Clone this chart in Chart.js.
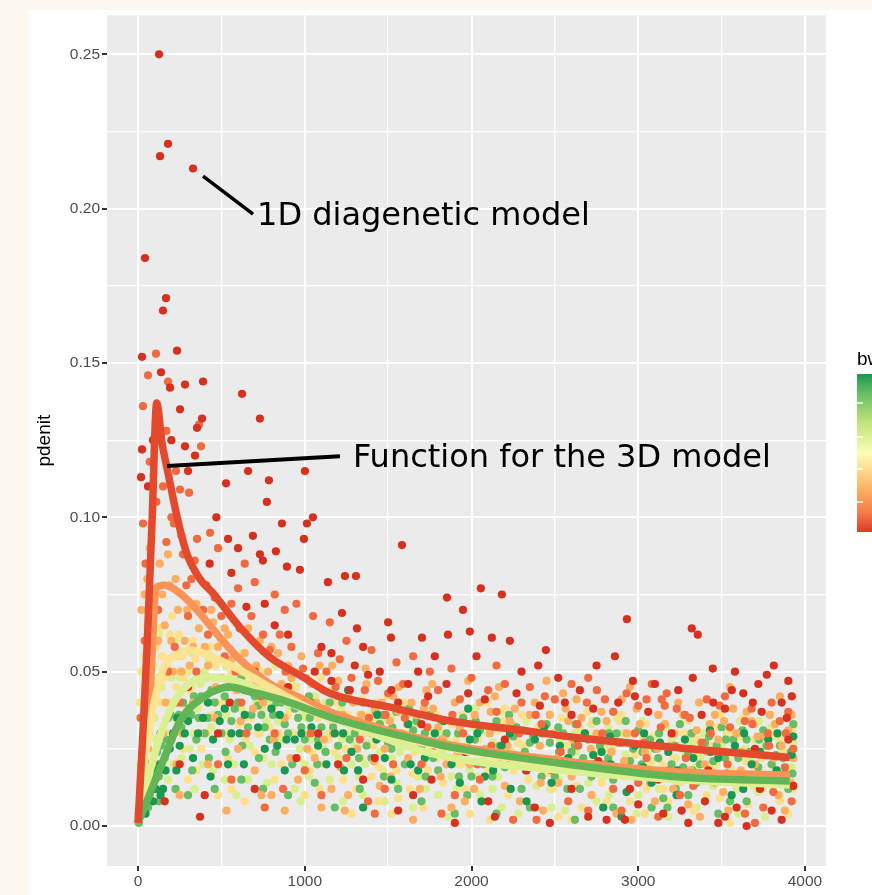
<!DOCTYPE html>
<html>
<head>
<meta charset="utf-8">
<script src="https://cdn.jsdelivr.net/npm/chart.js@4.4.0/dist/chart.umd.min.js"></script>
<style>
html, body { margin: 0; padding: 0; background: #fcf8f0; }
#wrap { position: absolute; left: 29px; top: 10px; width: 843px; height: 885px; background: #fff; overflow: hidden; }
canvas { display: block; margin-top: -6px; }
</style>
</head>
<body>
<div id="wrap"><canvas id="chart" width="843" height="891"></canvas></div>
<script>
"use strict";
// axis ticks
const xMajor = [0, 1000, 2000, 3000, 4000];
const xTickLabels = ['0', '1000', '2000', '3000', '4000'];
const xMinor = [500, 1500, 2500, 3500];
const yMajor = [0, 0.05, 0.10, 0.15, 0.20, 0.25];
const yTickLabels = ['0.00', '0.05', '0.10', '0.15', '0.20', '0.25'];
const yMinor = [0.025, 0.075, 0.125, 0.175, 0.225];

// fitted curves, one per bw class
const redLine = [[0,0.001],[30,0.031],[55,0.059],[85,0.100],[112,0.137],[144,0.124],[174,0.116],[235,0.100],[294,0.088],[372,0.080],[450,0.0754],[611,0.0644],[791,0.0547],[989,0.0483],[1151,0.0430],[1511,0.0385],[1900,0.0338],[2300,0.031],[2650,0.0285],[3249,0.0253],[3909,0.0222]];
const orangeLine = [[0,0.001],[40,0.022],[72,0.043],[95,0.068],[105,0.077],[162,0.078],[252,0.0754],[354,0.070],[492,0.061],[611,0.054],[791,0.046],[953,0.042],[1151,0.037],[1500,0.031],[1900,0.026],[2650,0.0205],[3249,0.0175],[3909,0.0165]];
const yellowLine = [[0,0.001],[54,0.027],[150,0.0505],[252,0.056],[312,0.057],[450,0.0547],[611,0.0505],[791,0.045],[1151,0.035],[1900,0.025],[2650,0.019],[3249,0.0158],[3909,0.0145]];
const limeLine = [[0,0.001],[90,0.0214],[192,0.0376],[312,0.0463],[432,0.048],[611,0.0466],[851,0.041],[1211,0.034],[1751,0.0236],[2650,0.0175],[3249,0.015],[3909,0.0133]];
const greenLine = [[0,0.001],[30,0.005],[90,0.013],[150,0.021],[252,0.034],[400,0.042],[552,0.045],[671,0.0435],[851,0.041],[1200,0.0345],[1751,0.027],[1900,0.0253],[2650,0.0195],[3249,0.0159],[3909,0.0146]];

// observations grouped by bw class (low bw = red ... high bw = green)
const ptsBw1 = [[126,0.250],[180,0.221],[132,0.217],[330,0.213],[42,0.184],[168,0.171],[150,0.167],[24,0.152],[234,0.154],[138,0.147],[192,0.142],[282,0.143],[390,0.144],[624,0.140],[252,0.135],[731,0.132],[384,0.132],[354,0.129],[24,0.122],[282,0.123],[342,0.120],[18,0.113],[528,0.111],[660,0.115],[785,0.112],[1001,0.115],[773,0.105],[1049,0.100],[1013,0.098],[863,0.098],[689,0.094],[995,0.093],[1583,0.091],[540,0.093],[731,0.088],[827,0.089],[749,0.086],[893,0.084],[971,0.083],[1241,0.081],[1307,0.081],[1139,0.079],[1853,0.074],[1223,0.069],[1313,0.064],[1703,0.061],[2056,0.077],[2182,0.075],[1949,0.070],[1990,0.063],[2122,0.061],[2230,0.060],[1859,0.062],[1517,0.061],[2932,0.067],[3321,0.064],[3357,0.062],[2446,0.057],[2860,0.055],[3447,0.051],[3813,0.052],[3771,0.049],[3921,0.042],[3327,0.048],[3561,0.044],[3687,0.040],[3891,0.035],[2968,0.047],[372,0.003],[1450,0.050],[1620,0.046],[1780,0.055],[2300,0.050],[2520,0.048],[2650,0.044],[2750,0.052],[3100,0.046],[3450,0.040],[3630,0.043],[1100,0.058],[1300,0.052],[900,0.062],[650,0.071],[560,0.082],[1900,0.001],[2700,0.003],[2810,0.002],[3150,0.004],[3300,0.001],[3520,0.003],[3650,0.000],[3800,0.005],[2380,0.006],[2100,0.008],[1650,0.010],[1350,0.015],[1200,0.020],[950,0.022],[1080,0.030],[2950,0.012],[3420,0.018],[3700,0.025],[2200,0.028],[1700,0.033],[2600,0.036],[3200,0.030],[3900,0.028],[700,0.012],[480,0.030],[250,0.020],[160,0.008],[1520,0.044],[2880,0.040],
  [1060,0.050],[1160,0.047],[1270,0.044],[1380,0.049],[1560,0.040],[1740,0.042],[1980,0.043],[2080,0.041],[2270,0.043],[2410,0.039],[2560,0.040],[2730,0.038],[2980,0.042],[3060,0.037],[3240,0.044],[3380,0.036],[3520,0.038],[3740,0.037],[3860,0.040],[1420,0.022],[1560,0.005],[1760,0.015],[1960,0.024],[2140,0.003],[2330,0.018],[2470,0.001],[2600,0.012],[2760,0.021],[2920,0.002],[3000,0.007],[3120,0.015],[3260,0.005],[3400,0.008],[3480,0.001],[3590,0.006],[3730,0.012],[3860,0.002],[3930,0.013],[820,0.065],[760,0.072],[600,0.090],[470,0.100],[430,0.085],[300,0.115],[200,0.125],[90,0.125],[60,0.110],[1160,0.056],[1350,0.058],[1500,0.066],[1680,0.050],[2400,0.052],[3580,0.050],[3720,0.046],[3900,0.047],[1850,0.046],[2030,0.055],[900,0.045],[700,0.050],[550,0.040],[400,0.010],[300,0.045]];
const ptsBw2 = [[60,0.146],[30,0.136],[108,0.153],[180,0.144],[366,0.130],[378,0.123],[228,0.115],[252,0.109],[306,0.108],[432,0.095],[480,0.090],[354,0.093],[30,0.098],[45,0.085],[200,0.100],[170,0.092],[270,0.088],[320,0.080],[410,0.078],[600,0.077],[640,0.085],[700,0.079],[820,0.075],[880,0.070],[950,0.072],[1050,0.068],[1150,0.066],[1250,0.060],[1400,0.057],[1550,0.053],[1650,0.055],[1750,0.050],[1880,0.051],[2000,0.048],[2150,0.052],[2350,0.045],[2500,0.041],[2700,0.048],[2800,0.041],[3000,0.039],[3141,0.041],[3159,0.039],[3231,0.038],[3411,0.041],[3489,0.039],[3309,0.035],[3639,0.034],[3777,0.030],[3849,0.034],[2692,0.040],[2752,0.044],[3081,0.046],[3171,0.043],[1020,0.040],[1180,0.036],[1330,0.028],[1480,0.012],[1600,0.035],[1820,0.004],[1950,0.030],[2050,0.015],[2250,0.002],[2420,0.033],[2580,0.008],[2640,0.026],[2900,0.005],[3050,0.022],[3250,0.010],[3380,0.027],[3600,0.015],[3750,0.006],[3880,0.019],[3920,0.008],[820,0.030],[620,0.040],[520,0.055],[420,0.062],[300,0.068],[220,0.058],[120,0.070],[80,0.040],[560,0.015],[760,0.006],[1100,0.010],[1420,0.004],[2480,0.018],[2980,0.030],[3550,0.032],[3700,0.001],[2150,0.037],[1700,0.020],
  [70,0.118],[110,0.105],[150,0.110],[170,0.128],[215,0.098],[260,0.094],[290,0.078],[340,0.086],[390,0.070],[460,0.074],[500,0.068],[560,0.072],[610,0.064],[680,0.068],[750,0.062],[790,0.057],[850,0.062],[920,0.058],[990,0.051],[1080,0.056],[1130,0.050],[1210,0.054],[1280,0.048],[1360,0.044],[1440,0.047],[1500,0.043],[1590,0.046],[1720,0.040],[1800,0.044],[1930,0.041],[2100,0.044],[2200,0.046],[2300,0.040],[2440,0.042],[2600,0.046],[2850,0.037],[2930,0.043],[3050,0.041],[3280,0.036],[3520,0.042],[3680,0.038],[3800,0.040],[3900,0.037],[1250,0.022],[1380,0.008],[1530,0.020],[1780,0.026],[1900,0.010],[2120,0.026],[2300,0.022],[2390,0.002],[2700,0.005],[2850,0.012],[3120,0.003],[3180,0.018],[3330,0.013],[3470,0.024],[3640,0.004],[3810,0.011],[3930,0.025],[1000,0.018],[870,0.012],[650,0.030],[480,0.020],[350,0.050],[250,0.040],[180,0.050],[40,0.060],[15,0.035],[3000,0.014],
  [1035,0.030],[1385,0.035],[1635,0.028],[1885,0.036],[2035,0.020],[2285,0.030],[2535,0.024],[2785,0.030],[3035,0.027],[3285,0.022],[3535,0.020],[3785,0.026],[3885,0.030],[1185,0.045],[1485,0.036],[1735,0.032],[2385,0.036],[2635,0.033],[2885,0.027],[3135,0.032],[3435,0.030],[3685,0.033],[585,0.050],[735,0.042],[885,0.050]];
const ptsBw3 = [[40,0.075],[70,0.090],[95,0.060],[130,0.085],[160,0.065],[190,0.078],[210,0.050],[240,0.070],[280,0.060],[310,0.052],[350,0.072],[400,0.058],[450,0.066],[500,0.048],[540,0.062],[590,0.044],[640,0.056],[690,0.038],[730,0.060],[780,0.050],[840,0.056],[880,0.035],[920,0.048],[980,0.055],[1040,0.046],[1090,0.052],[1130,0.038],[1200,0.047],[1260,0.042],[1310,0.033],[1370,0.046],[1420,0.038],[1480,0.025],[1530,0.042],[1580,0.030],[1640,0.040],[1690,0.012],[1730,0.044],[1800,0.032],[1850,0.020],[1900,0.040],[1960,0.008],[2020,0.036],[2080,0.025],[2140,0.042],[2200,0.013],[2260,0.038],[2320,0.022],[2380,0.040],[2430,0.005],[2490,0.030],[2550,0.043],[2600,0.016],[2660,0.035],[2720,0.010],[2780,0.037],[2840,0.024],[2900,0.041],[2960,0.002],[3010,0.033],[3070,0.014],[3120,0.036],[3190,0.026],[3240,0.040],[3300,0.007],[3350,0.031],[3400,0.020],[3460,0.036],[3510,0.011],[3570,0.038],[3620,0.024],[3680,0.034],[3730,0.016],[3790,0.036],[3840,0.010],[3900,0.031],[3930,0.022],[150,0.030],[250,0.010],[330,0.040],[420,0.020],[600,0.025],[700,0.018],[800,0.010],[960,0.015],[1060,0.022],[1160,0.012],[1240,0.005],[1650,0.002],[2950,0.045],[3550,0.045],[3850,0.042],[2450,0.047],[1980,0.047],
  [20,0.070],[55,0.080],[80,0.068],[120,0.060],[145,0.075],[180,0.088],[200,0.060],[225,0.080],[260,0.050],[295,0.070],[330,0.058],[365,0.064],[420,0.052],[440,0.070],[480,0.058],[520,0.064],[560,0.054],[620,0.050],[660,0.064],[710,0.052],[750,0.040],[800,0.058],[860,0.046],[900,0.052],[950,0.040],[1010,0.048],[1070,0.040],[1110,0.044],[1170,0.030],[1230,0.036],[1290,0.040],[1340,0.036],[1400,0.030],[1460,0.040],[1510,0.034],[1560,0.037],[1620,0.022],[1670,0.036],[1710,0.028],[1770,0.038],[1830,0.028],[1880,0.006],[1930,0.032],[1990,0.020],[2050,0.040],[2110,0.030],[2170,0.020],[2230,0.034],[2290,0.008],[2350,0.036],[2410,0.026],[2470,0.036],[2520,0.014],[2580,0.034],[2630,0.041],[2690,0.020],[2750,0.030],[2810,0.034],[2870,0.004],[2930,0.030],[2990,0.038],[3040,0.024],[3100,0.008],[3160,0.033],[3210,0.012],[3270,0.036],[3320,0.025],[3370,0.003],[3430,0.033],[3480,0.028],[3540,0.005],[3590,0.030],[3650,0.037],[3700,0.020],[3760,0.029],[3820,0.033],[3880,0.005],[3920,0.036],[3860,0.026],[1450,0.013],[1260,0.010],[1100,0.006],[880,0.005],[740,0.010],[530,0.005],[460,0.035],[230,0.020],[100,0.045],[60,0.025],[3460,0.014],
  [1015,0.025],[1115,0.028],[1215,0.019],[1315,0.025],[1415,0.021],[1515,0.016],[1615,0.033],[1715,0.038],[1815,0.016],[1915,0.024],[2015,0.012],[2115,0.037],[2215,0.026],[2315,0.031],[2415,0.014],[2515,0.022],[2615,0.028],[2715,0.025],[2815,0.017],[2915,0.021],[3015,0.016],[3115,0.025],[3215,0.030],[3315,0.018],[3415,0.024],[3515,0.034],[3615,0.018],[3715,0.029],[3815,0.022],[3915,0.014],[615,0.034],[715,0.046],[815,0.028],[915,0.022],[365,0.030],[465,0.045],[265,0.030],[165,0.040],[1165,0.052],[1365,0.051],[1565,0.045],[1765,0.046],[2165,0.045],[2565,0.038],[3365,0.040]];
const ptsBw4 = [[20,0.050],[55,0.065],[85,0.045],[110,0.058],[140,0.040],[175,0.052],[205,0.068],[230,0.045],[265,0.055],[290,0.038],[330,0.060],[370,0.048],[410,0.042],[460,0.052],[510,0.040],[560,0.050],[610,0.033],[660,0.046],[720,0.030],[760,0.044],[810,0.038],[870,0.045],[930,0.030],[990,0.040],[1030,0.018],[1080,0.035],[1140,0.028],[1190,0.040],[1230,0.015],[1290,0.032],[1340,0.022],[1390,0.036],[1440,0.008],[1500,0.028],[1550,0.018],[1610,0.030],[1660,0.024],[1710,0.006],[1770,0.027],[1830,0.014],[1880,0.033],[1940,0.020],[1990,0.004],[2040,0.028],[2100,0.018],[2160,0.031],[2220,0.010],[2280,0.027],[2340,0.015],[2400,0.032],[2460,0.022],[2520,0.003],[2570,0.026],[2630,0.013],[2690,0.030],[2750,0.019],[2810,0.008],[2860,0.028],[2920,0.016],[2980,0.023],[3040,0.004],[3090,0.029],[3150,0.012],[3210,0.022],[3270,0.030],[3330,0.005],[3380,0.016],[3440,0.026],[3490,0.009],[3540,0.021],[3600,0.029],[3660,0.007],[3710,0.019],[3760,0.026],[3810,0.013],[3870,0.024],[3920,0.017],[3900,0.004],[120,0.020],[200,0.028],[300,0.015],[380,0.025],[480,0.010],[540,0.022],[640,0.008],[860,0.020],[1000,0.010],[1600,0.040],[2200,0.038],[2900,0.036],[3300,0.034],[3700,0.033],
  [10,0.040],[40,0.055],[75,0.058],[95,0.075],[130,0.064],[160,0.048],[190,0.062],[245,0.062],[275,0.048],[310,0.044],[345,0.054],[395,0.035],[430,0.058],[470,0.040],[495,0.060],[530,0.030],[580,0.040],[630,0.044],[680,0.035],[740,0.050],[790,0.032],[840,0.040],[900,0.036],[950,0.045],[1020,0.030],[1060,0.040],[1110,0.020],[1160,0.044],[1210,0.030],[1260,0.036],[1310,0.012],[1360,0.030],[1410,0.026],[1460,0.034],[1520,0.004],[1570,0.030],[1630,0.012],[1680,0.034],[1740,0.018],[1790,0.036],[1850,0.022],[1910,0.028],[1960,0.012],[2010,0.034],[2060,0.008],[2130,0.024],[2190,0.034],[2250,0.018],[2310,0.026],[2370,0.006],[2430,0.030],[2490,0.012],[2540,0.035],[2600,0.027],[2660,0.006],[2720,0.033],[2780,0.014],[2840,0.020],[2890,0.034],[2950,0.008],[3010,0.026],[3070,0.020],[3120,0.030],[3180,0.008],[3240,0.026],[3300,0.018],[3350,0.028],[3410,0.010],[3470,0.032],[3520,0.015],[3580,0.025],[3630,0.035],[3690,0.013],[3740,0.022],[3790,0.030],[3850,0.008],[3900,0.028],[3930,0.012],[150,0.018],[270,0.025],[350,0.018],[420,0.030],[560,0.012],[700,0.024],[820,0.015],[960,0.022],[1090,0.012],[1180,0.024],[1280,0.004],[1400,0.016],[1560,0.009],[1700,0.028],[2000,0.024],[2110,0.002],[2300,0.036],[2600,0.002],[2800,0.025],[3050,0.012],[3550,0.001],[3800,0.020],
  [1045,0.024],[1145,0.035],[1245,0.025],[1345,0.041],[1445,0.019],[1545,0.037],[1645,0.017],[1745,0.032],[1845,0.030],[1945,0.036],[2045,0.016],[2145,0.021],[2245,0.033],[2345,0.022],[2445,0.017],[2545,0.019],[2645,0.032],[2745,0.024],[2845,0.012],[2945,0.030],[3045,0.033],[3145,0.020],[3245,0.014],[3345,0.024],[3445,0.019],[3545,0.030],[3645,0.021],[3745,0.012],[3845,0.028],[3925,0.031],[545,0.045],[645,0.028],[745,0.038],[845,0.030],[945,0.050],[445,0.036],[345,0.042],[245,0.050],[145,0.055],[65,0.035],[1095,0.048],[1495,0.042],[2095,0.040],[2695,0.037],[3495,0.036]];
const ptsBw5 = [[30,0.030],[60,0.045],[100,0.035],[125,0.048],[150,0.055],[185,0.040],[220,0.035],[250,0.048],[280,0.030],[320,0.045],[360,0.038],[400,0.050],[440,0.032],[480,0.044],[530,0.036],[570,0.046],[620,0.038],[670,0.026],[710,0.040],[770,0.034],[820,0.045],[860,0.028],[910,0.038],[970,0.025],[1010,0.035],[1060,0.042],[1110,0.025],[1170,0.033],[1220,0.038],[1280,0.020],[1330,0.036],[1380,0.027],[1430,0.032],[1470,0.018],[1520,0.035],[1570,0.024],[1630,0.028],[1680,0.016],[1740,0.031],[1790,0.022],[1850,0.028],[1910,0.012],[1970,0.026],[2010,0.032],[2070,0.021],[2130,0.027],[2180,0.006],[2240,0.024],[2300,0.031],[2360,0.019],[2410,0.026],[2470,0.012],[2530,0.028],[2590,0.022],[2650,0.031],[2700,0.014],[2770,0.025],[2820,0.032],[2880,0.018],[2940,0.027],[3000,0.010],[3060,0.024],[3110,0.018],[3170,0.032],[3220,0.015],[3280,0.024],[3340,0.019],[3390,0.030],[3450,0.013],[3500,0.026],[3560,0.018],[3610,0.034],[3670,0.021],[3720,0.011],[3780,0.023],[3830,0.029],[3880,0.015],[3930,0.027],[3910,0.036],[80,0.012],[180,0.015],[260,0.022],[340,0.012],[450,0.018],[590,0.010],[750,0.022],[940,0.012],[1150,0.015],[1350,0.010],[1860,0.003],[2560,0.005],[3180,0.003],[3760,0.003],
  [15,0.020],[45,0.040],[70,0.030],[95,0.052],[110,0.028],[140,0.045],[165,0.030],[200,0.048],[235,0.055],[265,0.040],[300,0.050],[335,0.030],[375,0.046],[415,0.040],[455,0.048],[500,0.040],[550,0.028],[600,0.044],[645,0.035],[690,0.046],[730,0.030],[790,0.040],[840,0.034],[890,0.044],[930,0.030],[990,0.036],[1040,0.028],[1090,0.036],[1140,0.030],[1200,0.022],[1250,0.030],[1300,0.026],[1360,0.020],[1410,0.034],[1450,0.024],[1500,0.030],[1550,0.014],[1600,0.026],[1660,0.033],[1710,0.020],[1760,0.026],[1820,0.030],[1880,0.016],[1940,0.030],[1990,0.018],[2040,0.024],[2100,0.030],[2160,0.016],[2210,0.028],[2270,0.020],[2330,0.034],[2390,0.013],[2440,0.030],[2500,0.021],[2560,0.026],[2620,0.030],[2680,0.018],[2730,0.028],[2790,0.016],[2850,0.026],[2910,0.030],[2970,0.016],[3030,0.028],[3080,0.021],[3140,0.026],[3200,0.028],[3250,0.018],[3310,0.030],[3370,0.022],[3420,0.026],[3470,0.020],[3530,0.030],[3590,0.012],[3640,0.025],[3700,0.028],[3750,0.016],[3800,0.032],[3860,0.022],[3920,0.019],[210,0.020],[310,0.025],[390,0.020],[520,0.015],[660,0.015],[800,0.020],[1000,0.020],[1230,0.008],[1480,0.008],[1650,0.006],[1800,0.010],[2050,0.010],[2280,0.004],[2480,0.006],[2750,0.008],[2990,0.004],[3350,0.006],[3600,0.004],[3850,0.010],
  [1025,0.016],[1125,0.040],[1225,0.028],[1325,0.016],[1425,0.040],[1525,0.022],[1625,0.036],[1725,0.012],[1825,0.024],[1925,0.020],[2025,0.038],[2125,0.012],[2225,0.034],[2325,0.026],[2425,0.022],[2525,0.015],[2625,0.024],[2725,0.034],[2825,0.010],[2925,0.023],[3025,0.034],[3125,0.012],[3225,0.022],[3325,0.027],[3425,0.033],[3525,0.024],[3625,0.029],[3725,0.034],[3825,0.018],[3925,0.023],[525,0.052],[625,0.056],[725,0.048],[825,0.052],[925,0.046],[425,0.054],[325,0.056],[225,0.060],[125,0.062],[575,0.020],[775,0.014],[975,0.008],[1575,0.040],[2175,0.037],[2875,0.035]];
const ptsBw6 = [[10,0.003],[25,0.008],[40,0.012],[55,0.016],[70,0.010],[85,0.020],[100,0.015],[115,0.024],[135,0.030],[160,0.022],[180,0.035],[200,0.028],[230,0.040],[260,0.032],[290,0.045],[320,0.036],[350,0.028],[380,0.042],[420,0.035],[460,0.040],[500,0.030],[540,0.045],[580,0.038],[620,0.048],[660,0.032],[700,0.042],[740,0.036],[790,0.028],[830,0.040],[880,0.033],[920,0.042],[960,0.035],[1000,0.028],[1050,0.038],[1100,0.032],[1150,0.040],[1200,0.026],[1250,0.035],[1300,0.030],[1350,0.040],[1400,0.022],[1450,0.033],[1500,0.027],[1550,0.037],[1600,0.020],[1650,0.031],[1700,0.026],[1750,0.036],[1800,0.018],[1850,0.030],[1900,0.022],[1950,0.035],[2000,0.016],[2050,0.031],[2100,0.024],[2150,0.034],[2200,0.019],[2250,0.029],[2300,0.012],[2350,0.027],[2400,0.021],[2450,0.033],[2500,0.016],[2550,0.030],[2600,0.024],[2650,0.012],[2700,0.028],[2750,0.034],[2800,0.020],[2850,0.015],[2900,0.027],[2950,0.021],[3000,0.031],[3050,0.017],[3100,0.025],[3150,0.009],[3200,0.020],[3250,0.033],[3300,0.024],[3350,0.014],[3400,0.027],[3450,0.021],[3500,0.032],[3550,0.008],[3600,0.022],[3650,0.028],[3700,0.015],[3750,0.031],[3800,0.020],[3850,0.026],[3900,0.012],[3930,0.033],[620,0.015],[900,0.010],[1180,0.006],[1700,0.008],[2150,0.004],[2620,0.002],[3080,0.006],[3480,0.004],
  [5,0.001],[20,0.004],[35,0.006],[50,0.010],[65,0.014],[80,0.016],[95,0.012],[110,0.020],[125,0.016],[140,0.026],[170,0.028],[195,0.036],[215,0.030],[245,0.036],[270,0.040],[305,0.038],[335,0.042],[365,0.035],[400,0.030],[440,0.044],[480,0.036],[520,0.042],[560,0.034],[600,0.040],[640,0.044],[680,0.036],[720,0.039],[760,0.032],[810,0.036],[860,0.040],[900,0.030],[940,0.038],[980,0.032],[1030,0.035],[1080,0.028],[1120,0.036],[1170,0.032],[1220,0.034],[1270,0.028],[1320,0.034],[1370,0.026],[1420,0.030],[1470,0.036],[1520,0.025],[1570,0.029],[1620,0.026],[1670,0.034],[1720,0.030],[1770,0.022],[1820,0.034],[1870,0.026],[1920,0.030],[1970,0.024],[2020,0.028],[2070,0.020],[2120,0.032],[2170,0.026],[2220,0.022],[2270,0.032],[2320,0.024],[2370,0.029],[2420,0.016],[2470,0.027],[2520,0.032],[2570,0.020],[2620,0.026],[2670,0.022],[2720,0.016],[2770,0.026],[2820,0.022],[2870,0.030],[2920,0.018],[2970,0.025],[3020,0.020],[3070,0.028],[3120,0.022],[3170,0.016],[3220,0.026],[3270,0.019],[3320,0.030],[3370,0.020],[3420,0.016],[3470,0.026],[3520,0.022],[3570,0.028],[3620,0.016],[3670,0.024],[3720,0.019],[3770,0.026],[3820,0.014],[3870,0.022],[3920,0.029],[3925,0.017],[300,0.010],[460,0.012],[750,0.012],[1060,0.014],[1330,0.012],[1560,0.012],[1900,0.004],[2350,0.006],[2850,0.006],[3300,0.010],[3650,0.008],
  [1025,0.042],[1125,0.024],[1225,0.040],[1325,0.022],[1425,0.037],[1525,0.032],[1625,0.038],[1725,0.016],[1825,0.028],[1925,0.016],[2025,0.034],[2125,0.016],[2225,0.036],[2325,0.018],[2425,0.030],[2525,0.024],[2625,0.033],[2725,0.020],[2825,0.030],[2925,0.034],[3025,0.024],[3125,0.030],[3225,0.012],[3325,0.018],[3425,0.029],[3525,0.028],[3625,0.031],[3725,0.028],[3825,0.023],[3915,0.024],[525,0.024],[625,0.026],[725,0.022],[825,0.024],[925,0.020],[425,0.022],[325,0.018],[225,0.012],[125,0.008],[60,0.006],[1075,0.020],[1475,0.016],[1975,0.010],[2575,0.012],[3175,0.006]];
const ptsBw7 = [[15,0.006],[45,0.004],[60,0.020],[90,0.008],[120,0.018],[150,0.012],[190,0.025],[230,0.018],[280,0.030],[330,0.022],[390,0.035],[450,0.028],[520,0.038],[610,0.030],[680,0.045],[760,0.025],[850,0.036],[940,0.028],[1040,0.032],[1130,0.020],[1230,0.030],[1320,0.018],[1430,0.028],[1520,0.015],[1620,0.033],[1720,0.022],[1820,0.026],[1930,0.014],[2030,0.024],[2130,0.018],[2230,0.030],[2330,0.008],[2430,0.020],[2530,0.026],[2630,0.018],[2730,0.023],[2830,0.029],[2930,0.011],[3030,0.019],[3130,0.027],[3230,0.010],[3330,0.022],[3430,0.031],[3530,0.017],[3630,0.012],[3730,0.024],[3830,0.018],[3920,0.023],[2790,0.006],[1980,0.038],[1260,0.044],
  [5,0.004],[30,0.010],[75,0.018],[105,0.012],[135,0.020],[165,0.018],[210,0.030],[250,0.026],[300,0.034],[360,0.030],[420,0.040],[490,0.034],[560,0.030],[640,0.036],[720,0.032],[800,0.038],[890,0.028],[980,0.030],[1080,0.026],[1180,0.030],[1280,0.024],[1380,0.032],[1480,0.022],[1580,0.028],[1680,0.018],[1780,0.030],[1880,0.020],[1990,0.028],[2080,0.016],[2180,0.026],[2280,0.022],[2380,0.028],[2480,0.014],[2580,0.022],[2680,0.030],[2780,0.024],[2880,0.018],[2980,0.026],[3080,0.014],[3180,0.024],[3280,0.028],[3380,0.016],[3480,0.022],[3580,0.026],[3680,0.020],[3780,0.028],[3880,0.017],[3930,0.029],[1350,0.006],[2060,0.008],[2900,0.003],[3560,0.010],[540,0.020],[880,0.018],
  [1035,0.040],[1235,0.018],[1435,0.036],[1635,0.020],[1835,0.034],[2035,0.030],[2235,0.012],[2435,0.032],[2635,0.028],[2835,0.020],[3035,0.030],[3235,0.018],[3435,0.024],[3635,0.030],[3835,0.030],[435,0.016],[635,0.020],[835,0.026],[235,0.035],[135,0.010]];

// hand-drawn annotations, in data coordinates
const labelNotes = [
  { text: '1D diagenetic model', from: [390, 0.2105], to: [690, 0.1982], at: [714, 0.1946], width: 3.5 },
  { text: 'Function for the 3D model', from: [174, 0.1166], to: [1211, 0.1198], at: [1289, 0.1163], width: 4 }
];

function toXY(arr) {
    return arr.map(function (p) { return { x: p[0], y: p[1] }; });
}
function isMajor(v, list) {
    return list.some(function (m) { return Math.abs(m - v) < 1e-9; });
}
function labelFor(v, list, labels) {
    for (let i = 0; i < list.length; i++) {
        if (Math.abs(list[i] - v) < 1e-9) return labels[i];
    }
    return '';
}

const datasets = [];
function addLine(data, color, order) {
    datasets.push({
        type: 'line', data: toXY(data), borderColor: color, borderWidth: 7.5,
        pointRadius: 0, fill: false, cubicInterpolationMode: 'monotone',
        borderCapStyle: 'butt', order: order
    });
}
function addPoints(data, color, order) {
    datasets.push({
        type: 'scatter', data: toXY(data), backgroundColor: color,
        borderWidth: 0, pointRadius: 4.1, pointHoverRadius: 4.1, order: order
    });
}
addLine(redLine, '#e2492d', 0);
addLine(greenLine, '#62b455', 1);
addLine(limeLine, '#dcef91', 2);
addLine(yellowLine, '#fee391', 3);
addLine(orangeLine, '#fb9256', 4);
addPoints(ptsBw1, '#d7301f', 10);
addPoints(ptsBw2, '#f16a40', 11);
addPoints(ptsBw7, '#1a9850', 12);
addPoints(ptsBw3, '#fdae61', 13);
addPoints(ptsBw6, '#66bd63', 14);
addPoints(ptsBw4, '#fee08b', 15);
addPoints(ptsBw5, '#d9ef8b', 16);

const panelPlugin = {
    id: 'panel',
    beforeDraw(chart) {
        const a = chart.chartArea, ctx = chart.ctx;
        ctx.save();
        ctx.fillStyle = '#ebebeb';
        ctx.fillRect(a.left, a.top, a.right - a.left, a.bottom - a.top);
        ctx.restore();
    },
    afterDatasetsDraw(chart) {
        const ctx = chart.ctx, sx = chart.scales.x, sy = chart.scales.y;
        ctx.save();
        ctx.strokeStyle = '#000';
        ctx.fillStyle = '#000';
        ctx.font = '32px "DejaVu Sans"';
        ctx.textBaseline = 'alphabetic';
        labelNotes.forEach(function (n) {
            ctx.lineWidth = n.width;
            ctx.beginPath();
            ctx.moveTo(sx.getPixelForValue(n.from[0]), sy.getPixelForValue(n.from[1]));
            ctx.lineTo(sx.getPixelForValue(n.to[0]), sy.getPixelForValue(n.to[1]));
            ctx.stroke();
            ctx.fillText(n.text, sx.getPixelForValue(n.at[0]), sy.getPixelForValue(n.at[1]));
        });
        ctx.restore();
    },
    afterDraw(chart) {
        // colour bar legend, cut at the right edge like the reference
        const ctx = chart.ctx;
        const bx = 828, by = 370, bh = 158;
        ctx.save();
        ctx.fillStyle = '#000';
        ctx.font = '19px "Liberation Sans", Arial, sans-serif';
        ctx.fillText('bw', bx, 361);
        const g = ctx.createLinearGradient(0, by, 0, by + bh);
        g.addColorStop(0, '#1a9850');
        g.addColorStop(0.12, '#66bd63');
        g.addColorStop(0.3, '#bfe27a');
        g.addColorStop(0.5, '#fdfdb6');
        g.addColorStop(0.72, '#fdb466');
        g.addColorStop(0.88, '#f57a48');
        g.addColorStop(1, '#dc3a28');
        ctx.fillStyle = g;
        ctx.fillRect(bx, by, 40, bh);
        ctx.strokeStyle = '#fff';
        ctx.lineWidth = 1.5;
        [399, 433, 465, 498].forEach(function (ty) {
            ctx.beginPath();
            ctx.moveTo(bx, ty);
            ctx.lineTo(bx + 6, ty);
            ctx.stroke();
        });
        ctx.restore();
    }
};

const tickFont = { family: '"Liberation Sans", Arial, sans-serif', size: 15.5 };

new Chart(document.getElementById('chart'), {
    type: 'scatter',
    data: { datasets: datasets },
    plugins: [panelPlugin],
    options: {
        responsive: false,
        animation: false,
        devicePixelRatio: 1,
        events: [],
        layout: { padding: { top: 5, right: 46, left: 0, bottom: 0 } },
        plugins: { legend: { display: false }, tooltip: { enabled: false } },
        scales: {
            x: {
                type: 'linear', min: -186, max: 4126,
                afterBuildTicks: function (scale) {
                    scale.ticks = xMajor.concat(xMinor).sort(function (a, b) { return a - b; })
                        .map(function (v) { return { value: v }; });
                },
                afterFit: function (scale) { scale.height = 29; },
                ticks: {
                    autoSkip: false, maxRotation: 0, padding: 1,
                    color: '#4d4d4d', font: tickFont,
                    callback: function (v) { return labelFor(v, xMajor, xTickLabels); }
                },
                grid: {
                    color: '#fff',
                    lineWidth: function (c) { return isMajor(c.tick.value, xMajor) ? 2 : 1.3; },
                    tickColor: function (c) { return isMajor(c.tick.value, xMajor) ? '#333' : 'rgba(0,0,0,0)'; },
                    tickLength: 5, tickWidth: 2
                },
                border: { display: false }
            },
            y: {
                type: 'linear', min: -0.012953, max: 0.26263,
                afterBuildTicks: function (scale) {
                    scale.ticks = yMajor.concat(yMinor).sort(function (a, b) { return a - b; })
                        .map(function (v) { return { value: v }; });
                },
                afterFit: function (scale) { scale.width = 78; },
                title: {
                    display: true, text: 'pdenit', color: '#000',
                    font: { family: '"Liberation Sans", Arial, sans-serif', size: 19 }
                },
                ticks: {
                    autoSkip: false, padding: 2,
                    color: '#4d4d4d', font: tickFont,
                    callback: function (v) { return labelFor(v, yMajor, yTickLabels); }
                },
                grid: {
                    color: '#fff',
                    lineWidth: function (c) { return isMajor(c.tick.value, yMajor) ? 2 : 1.3; },
                    tickColor: function (c) { return isMajor(c.tick.value, yMajor) ? '#333' : 'rgba(0,0,0,0)'; },
                    tickLength: 5, tickWidth: 2
                },
                border: { display: false }
            }
        }
    }
});
</script>
</body>
</html>
